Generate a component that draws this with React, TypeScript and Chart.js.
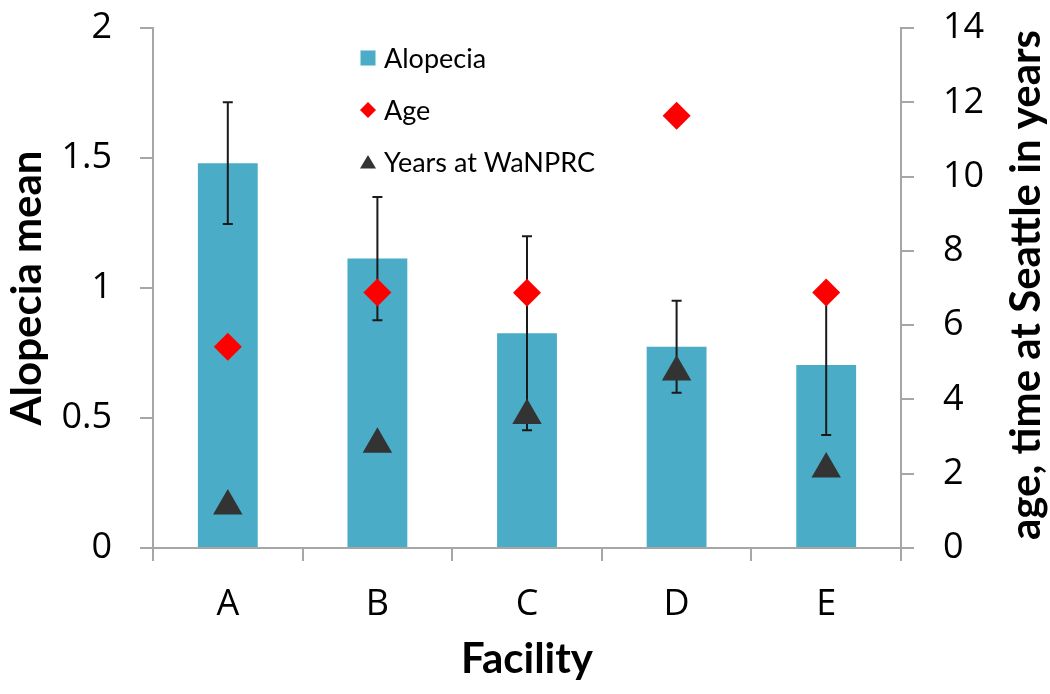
import React, { useEffect, useRef } from 'react';
import { Chart, registerables } from 'chart.js';

Chart.register(...registerables);

// ---- data ----
const categories = ['A', 'B', 'C', 'D', 'E'];
const alopeciaMean = [1.48, 1.113, 0.826, 0.774, 0.704];
const alopeciaErr = [0.234, 0.237, 0.373, 0.177, 0.269];
const ageYears = [5.42, 6.88, 6.87, 11.64, 6.88];
const yearsAtWaNPRC = [1.13, 2.79, 3.57, 4.74, 2.13];
const leftTickValues = [0, 0.5, 1, 1.5, 2];
const leftTickLabels = ['0', '0.5', '1', '1.5', '2'];
const rightTickValues = [0, 2, 4, 6, 8, 10, 12, 14];
const rightTickLabels = ['0', '2', '4', '6', '8', '10', '12', '14'];

const seriesNames = ['Alopecia', 'Age', 'Years at WaNPRC'];
const axisTitles = { left: 'Alopecia mean', right: 'age, time at Seattle in years', bottom: 'Facility' };

// ---- styles ----
const BAR_COLOR = '#4aacc6';
const AGE_COLOR = '#ff0000';
const YEARS_COLOR = '#333333';
const AXIS_COLOR = '#a6a6a6';
const TICK_FONT = { family: '"Open Sans", sans-serif', size: 36 };
const TITLE_FONT_FAMILY = 'Lato, sans-serif';
const TITLE_SIZE = 42;
const LEGEND_FONT = '27px Lato, sans-serif';

const errorBarPlugin = {
  id: 'errorBars',
  afterDatasetDraw(chart: any, args: any) {
    if (args.index !== 0) return;
    const { ctx } = chart;
    const ys = chart.scales.y;
    ctx.save();
    ctx.strokeStyle = '#1a1a1a';
    ctx.lineWidth = 2;
    args.meta.data.forEach((el: any, i: number) => {
      const v = alopeciaMean[i];
      const e = alopeciaErr[i];
      const top = ys.getPixelForValue(v + e);
      const bot = ys.getPixelForValue(v - e);
      const x = el.x;
      const cap = 5;
      ctx.beginPath();
      ctx.moveTo(x, top);
      ctx.lineTo(x, bot);
      ctx.moveTo(x - cap, top);
      ctx.lineTo(x + cap, top);
      ctx.moveTo(x - cap, bot);
      ctx.lineTo(x + cap, bot);
      ctx.stroke();
    });
    ctx.restore();
  },
};

const overlayPlugin = {
  id: 'overlay',
  afterDraw(chart: any) {
    const { ctx, chartArea, width } = chart;
    ctx.save();
    // right axis title, reading bottom-to-top
    ctx.fillStyle = '#000';
    ctx.font = `bold ${TITLE_SIZE}px ${TITLE_FONT_FAMILY}`;
    ctx.textAlign = 'center';
    ctx.textBaseline = 'middle';
    ctx.translate(width - 24, (chartArea.top + chartArea.bottom) / 2 - 3);
    ctx.rotate(-Math.PI / 2);
    ctx.fillText(axisTitles.right, 0, 0);
    ctx.restore();

    // legend
    ctx.save();
    const mx = chartArea.left + 215;
    const tx = chartArea.left + 231;
    const rows = [chartArea.top + 30, chartArea.top + 82, chartArea.top + 134];
    ctx.font = LEGEND_FONT;
    ctx.textAlign = 'left';
    ctx.textBaseline = 'middle';
    ctx.fillStyle = BAR_COLOR;
    ctx.fillRect(mx - 7.5, rows[0] - 7.5, 15, 15);
    ctx.fillStyle = AGE_COLOR;
    ctx.beginPath();
    ctx.moveTo(mx - 8, rows[1]);
    ctx.lineTo(mx, rows[1] - 8);
    ctx.lineTo(mx + 8, rows[1]);
    ctx.lineTo(mx, rows[1] + 8);
    ctx.closePath();
    ctx.fill();
    ctx.fillStyle = YEARS_COLOR;
    ctx.beginPath();
    ctx.moveTo(mx, rows[2] - 7);
    ctx.lineTo(mx + 8, rows[2] + 6.5);
    ctx.lineTo(mx - 8, rows[2] + 6.5);
    ctx.closePath();
    ctx.fill();
    ctx.fillStyle = '#000';
    seriesNames.forEach((n, i) => ctx.fillText(n, tx, rows[i] + 1));
    ctx.restore();
  },
};

export default function App() {
  const canvasRef = useRef<HTMLCanvasElement | null>(null);

  useEffect(() => {
    document.body.style.margin = '0';
    const canvas = canvasRef.current;
    if (!canvas) return;
    const chart = new Chart(canvas, {
      type: 'bar',
      data: {
        labels: categories,
        datasets: [
          {
            type: 'bar',
            label: seriesNames[0],
            data: alopeciaMean,
            backgroundColor: BAR_COLOR,
            borderWidth: 0,
            yAxisID: 'y',
            categoryPercentage: 0.4,
            barPercentage: 1,
            order: 3,
          } as any,
          {
            type: 'line',
            label: seriesNames[1],
            data: ageYears,
            showLine: false,
            pointStyle: 'rectRot',
            pointRadius: 14,
            pointBackgroundColor: AGE_COLOR,
            pointBorderWidth: 0,
            yAxisID: 'y2',
            order: 2,
          } as any,
          {
            type: 'line',
            label: seriesNames[2],
            data: yearsAtWaNPRC,
            showLine: false,
            pointStyle: 'triangle',
            pointRadius: 17,
            pointBackgroundColor: YEARS_COLOR,
            pointBorderWidth: 0,
            yAxisID: 'y2',
            order: 1,
          } as any,
        ],
      },
      options: {
        responsive: false,
        animation: false,
        devicePixelRatio: 1,
        layout: { padding: { top: 28, left: 0, right: 0, bottom: 0 } },
        plugins: {
          legend: { display: false },
          tooltip: { enabled: false },
        },
        scales: {
          x: {
            offset: true,
            grid: { offset: true, drawOnChartArea: false, drawTicks: true, tickLength: 13, color: AXIS_COLOR, lineWidth: 2 },
            border: { color: AXIS_COLOR, width: 2 },
            ticks: { font: TICK_FONT, color: '#000', padding: 22 },
            title: {
              display: true,
              text: axisTitles.bottom,
              color: '#000',
              font: { family: TITLE_FONT_FAMILY, size: TITLE_SIZE, weight: 'bold' },
              padding: { top: 0, bottom: 9 },
            },
            afterFit(scale: any) { scale.height = 146; },
          },
          y: {
            position: 'left',
            min: 0,
            max: 2,
            afterBuildTicks(scale: any) { scale.ticks = leftTickValues.map((v) => ({ value: v })); },
            grid: { drawOnChartArea: false, drawTicks: true, tickLength: 13, color: AXIS_COLOR, lineWidth: 2 },
            border: { color: AXIS_COLOR, width: 2 },
            ticks: {
              font: TICK_FONT,
              color: '#000',
              padding: 28,
              callback: (_v: any, i: number) => leftTickLabels[i],
            },
            title: {
              display: true,
              text: axisTitles.left,
              color: '#000',
              font: { family: TITLE_FONT_FAMILY, size: TITLE_SIZE, weight: 'bold' },
              padding: { top: 2, bottom: 0 },
            },
            afterFit(scale: any) {
              scale.width = 153;
              scale.paddingTop = 0;
              scale.paddingBottom = 0;
            },
          },
          y2: {
            position: 'right',
            min: 0,
            max: 14,
            afterBuildTicks(scale: any) { scale.ticks = rightTickValues.map((v) => ({ value: v })); },
            grid: { drawOnChartArea: false, drawTicks: true, tickLength: 13, color: AXIS_COLOR, lineWidth: 2 },
            border: { color: AXIS_COLOR, width: 2 },
            ticks: {
              font: TICK_FONT,
              color: '#000',
              padding: 29,
              callback: (_v: any, i: number) => rightTickLabels[i],
            },
            afterFit(scale: any) {
              scale.width = 149;
              scale.paddingTop = 0;
              scale.paddingBottom = 0;
            },
          },
        },
      } as any,
      plugins: [errorBarPlugin, overlayPlugin],
    });
    return () => chart.destroy();
  }, []);

  return (
    <div style={{ width: 1050, height: 694 }}>
      <canvas ref={canvasRef} width={1050} height={694} style={{ display: 'block' }} />
    </div>
  );
}
